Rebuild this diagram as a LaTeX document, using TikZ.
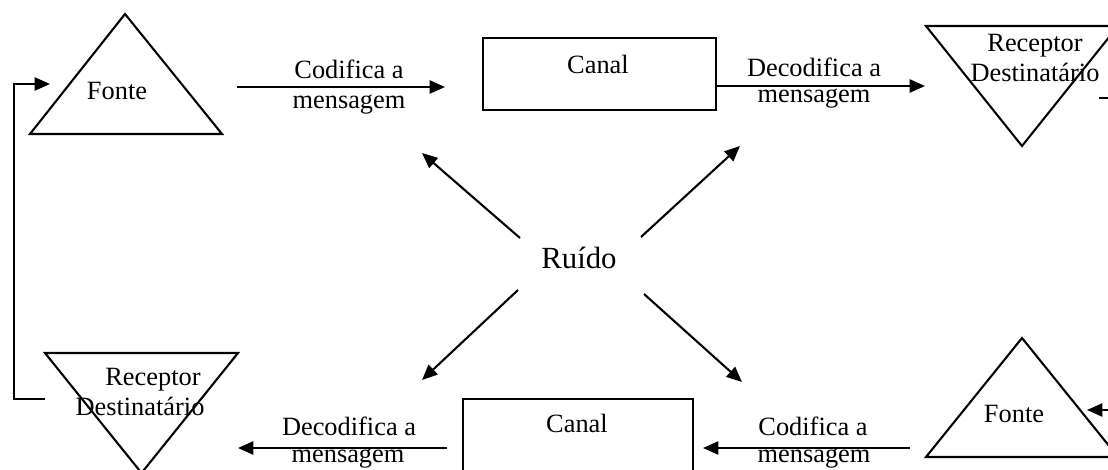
\documentclass[tikz,border=0pt]{standalone}
\usepackage{fontspec}
\setmainfont{Liberation Serif}
\usetikzlibrary{arrows.meta}
\tikzstyle{lbl} = [inner sep=0pt, anchor=base, font=\fontsize{12}{14}\selectfont]
\tikzstyle{shp} = [draw, line width=0.95pt]
\tikzstyle{seta} = [->, line width=0.95pt]

\begin{document}
\begin{tikzpicture}[x=0.455pt,y=-0.455pt,>={Triangle[length=7pt,width=6pt]},
                    line join=miter]

  \useasboundingbox (0,0) rectangle (1108,470);
  \clip (0,0) rectangle (1108,470);

  % formas
  \draw[shp] (125,14) -- (222,134) -- (30,134) -- cycle;
  \draw[shp] (483,38) rectangle (716,110);
  \draw[shp] (926,26) -- (1118,26) -- (1022,146) -- cycle;
  \draw[shp] (45,353) -- (238,353) -- (141.5,473) -- cycle;
  \draw[shp] (463,399) rectangle (693,490);
  \draw[shp] (1022,338) -- (1118,457) -- (926,457) -- cycle;

  % textos
  \node[lbl] (fonte1) at (117,100) {Fonte};
  \node[lbl] (canal1) at (598,74) {Canal};
  \node[lbl] (rec1)   at (1035,52) {Receptor};
  \node[lbl] (dest1)  at (1035,82) {Destinatário};
  \node[lbl] (cod1)   at (349,79) {Codifica a};
  \node[lbl] (msg1)   at (349,109) {mensagem};
  \node[lbl] (dec1)   at (814,77) {Decodifica a};
  \node[lbl] (msg2)   at (814,103) {mensagem};

  \node[lbl] (rec2)   at (153,385) {Receptor};
  \node[lbl] (dest2)  at (140,415) {Destinatário};
  \node[lbl] (canal2) at (577,433) {Canal};
  \node[lbl] (dec2)   at (349,435) {Decodifica a};
  \node[lbl] (msg3)   at (348,463) {mensagem};
  \node[lbl] (cod2)   at (813,435) {Codifica a};
  \node[lbl] (msg4)   at (814,463) {mensagem};
  \node[lbl] (fonte2) at (1014,423) {Fonte};

  \node[lbl, font=\fontsize{14}{16}\selectfont] (ruido) at (579,269) {Ruído};

  % pontas das setas
  \coordinate (a1) at (237,87);  \coordinate (b1) at (445,87);
  \coordinate (a2) at (716,86);  \coordinate (b2) at (925,86);
  \coordinate (a3) at (447,448); \coordinate (b3) at (238,448);
  \coordinate (a4) at (910,448); \coordinate (b4) at (703,448);
  \coordinate (r1) at (520,238); \coordinate (n1) at (422,153);
  \coordinate (r2) at (641,237); \coordinate (n2) at (740,146);
  \coordinate (r3) at (518,290); \coordinate (n3) at (422,380);
  \coordinate (r4) at (644,294); \coordinate (n4) at (742,382);
  \coordinate (f1) at (45,399);  \coordinate (g1) at (50,84);
  \coordinate (h1) at (1099,98); \coordinate (g2) at (1087,410);

  \path[seta] (a1) edge (b1)
  (a2) edge (b2)
  (a3) edge (b3)
  (a4) edge (b4)
  (r1) edge (n1)
  (r2) edge (n2)
  (r3) edge (n3)
  (r4) edge (n4);

  \draw[seta] (f1) -| (14,84) -- (g1);
  \draw[seta] (h1) -- (1130,98) |- (g2);
\end{tikzpicture}
\end{document}
